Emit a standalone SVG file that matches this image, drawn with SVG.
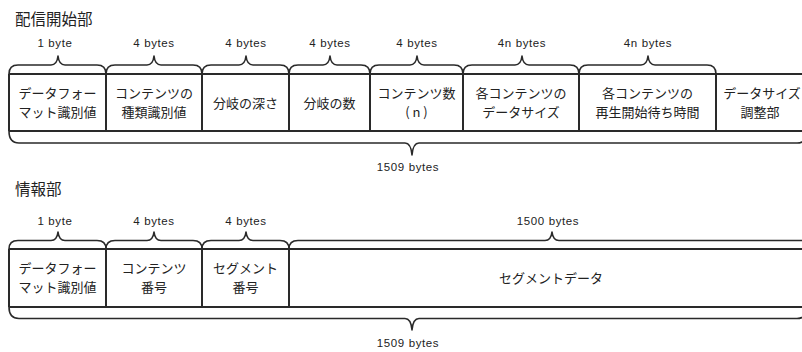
<svg xmlns="http://www.w3.org/2000/svg" width="802" height="352" viewBox="0 0 802 352">
<style>
.bg{fill:#ffffff}
.cell{fill:none;stroke:#2a2a2a;stroke-width:2}
.brace{fill:none;stroke:#2a2a2a;stroke-width:1.6;stroke-linejoin:round}
.t{font-family:"Noto Sans CJK JP","Noto Sans",sans-serif;font-size:13px;fill:#222;text-anchor:middle}
.title{font-family:"Noto Sans CJK JP","Noto Sans",sans-serif;font-size:15.5px;fill:#222}
.lab{font-family:"Liberation Sans","Noto Sans",sans-serif;font-size:11.5px;fill:#222;text-anchor:middle;letter-spacing:0.6px}
</style>
<rect class="bg" x="0" y="0" width="802" height="352"/>

<text class="title" x="15" y="25">配信開始部</text>
<text class="title" x="15" y="195">情報部</text>

<!-- top section -->
<g id="row1">
<path class="cell" d="M9 74 H802 M9 131 H802 M9 74 V131"/>
</g>
<g id="n1_fmt"><path class="cell" d="M106 74 V131"/><text class="t" x="57.5" y="98">データフォー</text><text class="t" x="57.5" y="117">マット識別値</text></g>
<g id="n1_kind"><path class="cell" d="M202 74 V131"/><text class="t" x="154" y="98">コンテンツの</text><text class="t" x="154" y="117">種類識別値</text></g>
<g id="n1_depth"><path class="cell" d="M289 74 V131"/><text class="t" x="245.5" y="107.5">分岐の深さ</text></g>
<g id="n1_branch"><path class="cell" d="M370 74 V131"/><text class="t" x="329.5" y="107.5">分岐の数</text></g>
<g id="n1_count"><path class="cell" d="M463 74 V131"/><text class="t" x="416.5" y="98">コンテンツ数</text><text class="t" x="416.5" y="117">( n )</text></g>
<g id="n1_size"><path class="cell" d="M579 74 V131"/><text class="t" x="521" y="98">各コンテンツの</text><text class="t" x="521" y="117">データサイズ</text></g>
<g id="n1_wait"><path class="cell" d="M716 74 V131"/><text class="t" x="647.5" y="98">各コンテンツの</text><text class="t" x="647.5" y="117">再生開始待ち時間</text></g>
<g id="n1_adjust"><text class="t" x="762" y="98">データサイズ</text><text class="t" x="760" y="117">調整部</text></g>

<!-- bottom section -->
<g id="row2">
<path class="cell" d="M9 249 H802 M9 307 H802 M9 249 V307"/>
</g>
<g id="n2_fmt"><path class="cell" d="M106 249 V307"/><text class="t" x="57.5" y="273">データフォー</text><text class="t" x="57.5" y="292">マット識別値</text></g>
<g id="n2_cnum"><path class="cell" d="M202 249 V307"/><text class="t" x="154" y="273">コンテンツ</text><text class="t" x="154" y="292">番号</text></g>
<g id="n2_snum"><path class="cell" d="M289 249 V307"/><text class="t" x="245.5" y="273">セグメント</text><text class="t" x="245.5" y="292">番号</text></g>
<g id="n2_data"><text class="t" x="551" y="282.5">セグメントデータ</text></g>

<g id="braces">
<!-- top section upper braces: baseline 65, peak 56 -->
<path class="brace" d="M9 74 Q9 65 18 65 L51 65 Q57 65 58 56 Q59 65 65 65 L97 65 Q106 65 106 74"/>
<path class="brace" d="M106 74 Q106 65 115 65 L147 65 Q153 65 154 56 Q155 65 161 65 L193 65 Q202 65 202 74"/>
<path class="brace" d="M202 74 Q202 65 211 65 L239 65 Q245 65 246 56 Q247 65 253 65 L280 65 Q289 65 289 74"/>
<path class="brace" d="M289 74 Q289 65 298 65 L323 65 Q329 65 330 56 Q331 65 337 65 L361 65 Q370 65 370 74"/>
<path class="brace" d="M370 74 Q370 65 379 65 L410 65 Q416 65 417 56 Q418 65 424 65 L454 65 Q463 65 463 74"/>
<path class="brace" d="M463 74 Q463 65 472 65 L515 65 Q521 65 522 56 Q523 65 529 65 L570 65 Q579 65 579 74"/>
<path class="brace" d="M579 74 Q579 65 588 65 L641 65 Q647 65 648 56 Q649 65 655 65 L707 65 Q716 65 716 74"/>
<!-- top section total -->
<path class="brace" d="M9 131 Q9 143 19 143 L405 143 Q411 143 412 155 Q413 143 419 143 L797 143 Q807 143 807 131"/>

<!-- bottom section upper braces: baseline 240.5, peak 232 -->
<path class="brace" d="M9 249 Q9 240.5 18 240.5 L51 240.5 Q57 240.5 58 232 Q59 240.5 65 240.5 L97 240.5 Q106 240.5 106 249"/>
<path class="brace" d="M106 249 Q106 240.5 115 240.5 L147 240.5 Q153 240.5 154 232 Q155 240.5 161 240.5 L193 240.5 Q202 240.5 202 249"/>
<path class="brace" d="M202 249 Q202 240.5 211 240.5 L239 240.5 Q245 240.5 246 232 Q247 240.5 253 240.5 L280 240.5 Q289 240.5 289 249"/>
<path class="brace" d="M289 249 Q289 240.5 298 240.5 L545 240.5 Q551 240.5 552 232 Q553 240.5 559 240.5 L806 240.5 Q815 240.5 815 249"/>
<!-- bottom section total -->
<path class="brace" d="M9 307 Q9 318.5 19 318.5 L405 318.5 Q411 318.5 412 330 Q413 318.5 419 318.5 L797 318.5 Q807 318.5 807 307"/>
</g>

<g id="labels">
<text class="lab" x="55" y="47">1 byte</text>
<text class="lab" x="154" y="47">4 bytes</text>
<text class="lab" x="246" y="47">4 bytes</text>
<text class="lab" x="330" y="47">4 bytes</text>
<text class="lab" x="417" y="47">4 bytes</text>
<text class="lab" x="522" y="47">4n bytes</text>
<text class="lab" x="648" y="47">4n bytes</text>
<text class="lab" x="408" y="171">1509 bytes</text>
<text class="lab" x="55" y="225">1 byte</text>
<text class="lab" x="154" y="225">4 bytes</text>
<text class="lab" x="246" y="225">4 bytes</text>
<text class="lab" x="548" y="225">1500 bytes</text>
<text class="lab" x="408" y="347">1509 bytes</text>
</g>
</svg>
